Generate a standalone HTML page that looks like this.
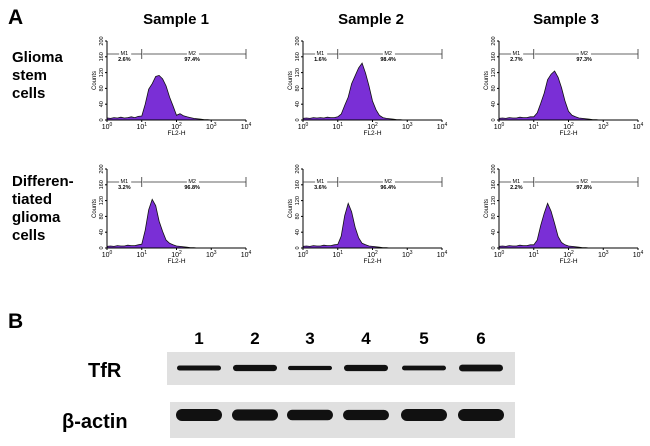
<!DOCTYPE html>
<html><head><meta charset="utf-8"><style>
body{margin:0;background:#fff;}
svg{display:block;font-family:"Liberation Sans",Arial,sans-serif;}
</style></head><body>
<svg id="fig" width="650" height="446" viewBox="0 0 650 446">
<text x="8" y="24" font-size="21" font-weight="bold">A</text>
<text x="8" y="328" font-size="21" font-weight="bold">B</text>
<text x="176" y="24" font-size="15" font-weight="bold" text-anchor="middle">Sample 1</text>
<text x="371" y="24" font-size="15" font-weight="bold" text-anchor="middle">Sample 2</text>
<text x="566" y="24" font-size="15" font-weight="bold" text-anchor="middle">Sample 3</text>
<g font-size="15" font-weight="bold">
<text x="12" y="62">Glioma</text><text x="12" y="80">stem</text><text x="12" y="98">cells</text></g>
<g font-size="15" font-weight="bold">
<text x="12" y="186">Differen-</text><text x="12" y="204">tiated</text><text x="12" y="222">glioma</text><text x="12" y="240">cells</text></g>
<g id="hists"></g>
<g>
<rect x="167" y="352" width="348" height="33" fill="#e0e0e0"/>
<rect x="170" y="402" width="345" height="36" fill="#e0e0e0"/>
<text x="88" y="377" font-size="20" font-weight="bold">TfR</text>
<text x="62" y="428" font-size="20" font-weight="bold">β-actin</text>
<g id="lanes"></g>
</g>
</svg>
<script>
const logGrid = [0,0.1,0.2,0.3,0.4,0.5,0.6,0.7,0.8,0.9,1.0,1.1,1.2,1.3,1.4,1.5,1.6,1.7,1.8,1.9,2.0,2.1,2.2,2.3,2.4,2.5,2.6,2.7,2.8,2.9,3.0];
const countsR1S1 = [5,4,6,5,7,5,6,8,6,9,10,40,78,92,110,113,104,86,58,36,12,16,11,8,6,4,3,2,1,1,0];
const countsR1S2 = [4,5,4,6,5,6,5,7,6,6,8,15,37,58,92,112,132,144,118,86,48,26,12,6,4,3,2,1,1,0,0];
const countsR1S3 = [4,5,4,6,5,5,7,6,6,8,8,18,42,68,102,116,124,108,82,48,22,12,8,5,4,3,2,1,1,0,0];
const countsR2S1 = [4,5,4,6,5,5,7,6,6,8,10,45,97,123,107,68,42,20,12,8,5,4,3,2,1,1,0,0,0,0,0];
const countsR2S2 = [4,5,4,6,5,5,7,6,6,8,9,30,82,113,92,53,26,12,8,5,4,3,2,1,1,0,0,0,0,0,0];
const countsR2S3 = [4,5,4,6,5,5,7,6,6,8,8,20,57,88,113,93,62,29,14,8,5,4,3,2,1,1,0,0,0,0,0];
const m1Labels = ["2.6%","1.6%","2.7%","3.2%","3.6%","2.2%"];
const m2Labels = ["97.4%","98.4%","97.3%","96.8%","96.4%","97.8%"];
const yTicks = [0,40,80,120,160,200];
const xTickExp = [0,1,2,3,4];
const panels = [countsR1S1,countsR1S2,countsR1S3,countsR2S1,countsR2S2,countsR2S3];
const tfrBand = [0.6,0.85,0.45,0.85,0.55,0.95];
const actinBand = [1.0,0.9,0.8,0.75,1.0,1.0];
const laneNames = ["1","2","3","4","5","6"];

const NS="http://www.w3.org/2000/svg";
function mk(tag,attrs,parent,txt){const e=document.createElementNS(NS,tag);for(const k in attrs)e.setAttribute(k,attrs[k]);if(txt!==undefined)e.textContent=txt;parent.appendChild(e);return e;}
const hg=document.getElementById('hists');
panels.forEach((data,i)=>{
  const col=i%3,row=Math.floor(i/3);
  const x0=107+col*196, yb=120+row*128, W=139, H=79;
  const xs=v=>x0+v/4*W, ys=v=>yb-v/200*H;
  const g=mk('g',{},hg);
  
  
  let d='M'+xs(logGrid[0])+','+ys(0);
  data.forEach((v,j)=>{d+=' L'+xs(logGrid[j]).toFixed(1)+','+ys(v).toFixed(1);});
  d+=' L'+xs(logGrid[logGrid.length-1])+','+ys(0)+' Z';
  const p=mk('path',{d:d,fill:'#7a2fd6',stroke:'#111','stroke-width':0.8},g);
  
  
  mk('line',{x1:x0,y1:yb,x2:x0,y2:ys(200),stroke:'#000','stroke-width':1},g);
  mk('line',{x1:x0,y1:yb,x2:x0+W,y2:yb,stroke:'#000','stroke-width':1},g);
  yTicks.forEach(t=>{
    mk('line',{x1:x0-2,y1:ys(t),x2:x0,y2:ys(t),stroke:'#000'},g);
    const tx=mk('text',{x:x0-4,y:ys(t),'font-size':5.5,'text-anchor':'middle',transform:'rotate(-90 '+(x0-4)+' '+ys(t)+')'},g,String(t));
    
    
  });
  const ct=mk('text',{x:x0-11,y:ys(100),'font-size':6,'text-anchor':'middle',transform:'rotate(-90 '+(x0-11)+' '+ys(100)+')'},g,'Counts');
  
  
  xTickExp.forEach(e=>{
    mk('line',{x1:xs(e),y1:yb,x2:xs(e),y2:yb+2,stroke:'#000'},g);
    const t=mk('text',{x:xs(e),y:yb+9,'font-size':7,'text-anchor':'middle'},g);
    
    
    t.appendChild(document.createTextNode('10'));
    mk('tspan',{'font-size':5,dy:-3},t,String(e));
  });
  const xt=mk('text',{x:xs(2),y:yb+15,'font-size':6.5,'text-anchor':'middle'},g,'FL2-H');
  
  
  const my=yb-66;
  mk('line',{x1:xs(0),y1:my,x2:xs(1),y2:my,stroke:'#333','stroke-width':0.8},g);
  mk('line',{x1:xs(1),y1:my-5,x2:xs(1),y2:my+5,stroke:'#333','stroke-width':0.8},g);
  mk('line',{x1:xs(1)+1,y1:my,x2:xs(4),y2:my,stroke:'#333','stroke-width':0.8},g);
  mk('line',{x1:xs(4),y1:my-5,x2:xs(4),y2:my+5,stroke:'#333','stroke-width':0.8},g);
  mk('rect',{x:xs(0.35),y:my-4,width:12,height:5,fill:'#fff'},g);
  mk('rect',{x:xs(2.3),y:my-4,width:12,height:5,fill:'#fff'},g);
  const a=mk('text',{x:xs(0.5),y:my+1,'font-size':5.5,'text-anchor':'middle'},g,'M1');
  
  const b=mk('text',{x:xs(0.5),y:my+7,'font-size':5.5,'text-anchor':'middle','font-weight':'bold'},g,m1Labels[i]);
  
  const c=mk('text',{x:xs(2.45),y:my+1,'font-size':5.5,'text-anchor':'middle'},g,'M2');
  
  const e2=mk('text',{x:xs(2.45),y:my+7,'font-size':5.5,'text-anchor':'middle','font-weight':'bold'},g,m2Labels[i]);
  
});
const lg=document.getElementById('lanes');
const laneX=[199,255,310,366,424,481];
laneNames.forEach((n,i)=>{
  const cx=laneX[i];
  const t=mk('text',{x:cx,y:344,'font-size':17,'font-weight':'bold','text-anchor':'middle'},lg,n);
  
  
  const h1=2+tfrBand[i]*5;
  const b1=mk('rect',{x:cx-22,y:368-h1/2,width:44,height:h1,rx:h1/2,fill:'#111'},lg);
  
  
  const h2=5+actinBand[i]*7;
  const b2=mk('rect',{x:cx-23,y:415-h2/2,width:46,height:h2,rx:h2/2,fill:'#111'},lg);
  
  
});
</script>
</body></html>
